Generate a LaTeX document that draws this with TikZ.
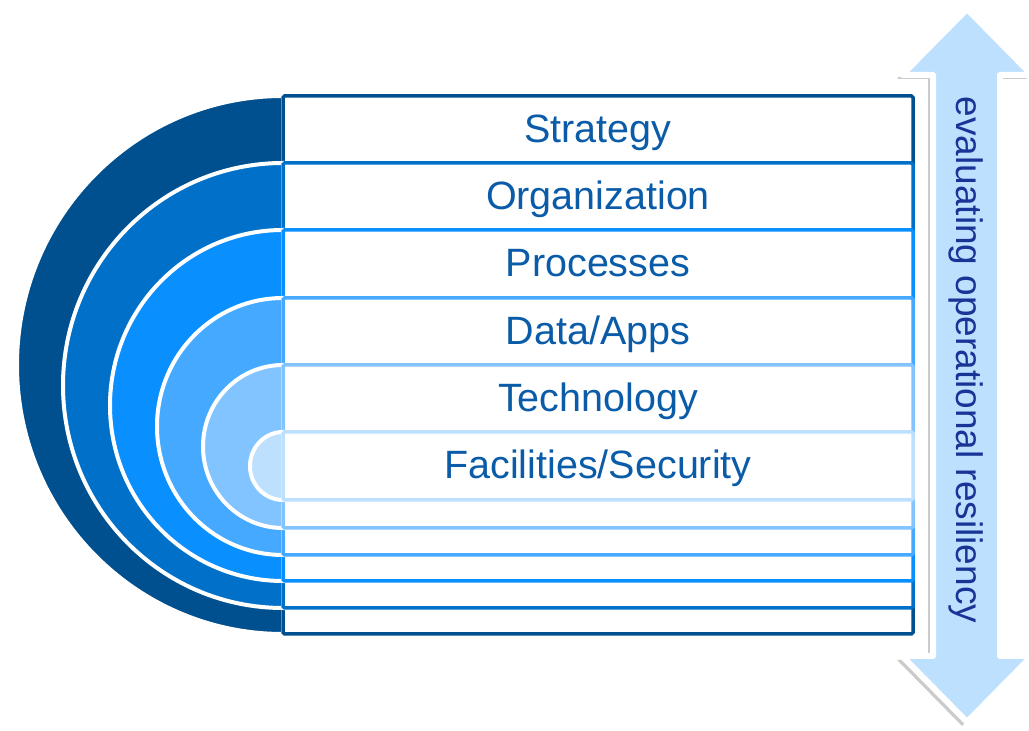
\documentclass[tikz,border=0pt]{standalone}
\usepackage{fontspec}
\setmainfont{Liberation Sans}
\usepackage{tikz}
\usetikzlibrary{calc, shadows}
\usepackage{xcolor}
\definecolor{layerA}{RGB}{0,80,143}
\definecolor{layerB}{RGB}{0,112,200}
\definecolor{layerC}{RGB}{10,143,255}
\definecolor{layerD}{RGB}{69,170,255}
\definecolor{layerE}{RGB}{130,196,255}
\definecolor{layerF}{RGB}{189,224,255}
\definecolor{labelblue}{RGB}{10,92,168}
\definecolor{arrownavy}{RGB}{24,52,150}
\tikzstyle{halfdisk} = [draw=white, line width=4pt]
\tikzstyle{layerbox} = [fill=white, line width=3.5pt, rounded corners=1.5pt]
\tikzstyle{layerlabel} = [anchor=base, text=labelblue, font=\fontsize{39.5}{44}\selectfont]

\begin{document}
\begin{tikzpicture}[x=1pt, y=1pt]

        \useasboundingbox (0,0) rectangle (1029,731);

        % layers, outer to inner
        \filldraw[halfdisk, fill=layerA] (283,635) arc (90:270:266 and 269) -- cycle;
        \draw[layerbox, draw=layerA] (283,97) rectangle (913,635);

        \filldraw[halfdisk, fill=layerB] (283,568) arc (90:270:220 and 222.5) -- cycle;
        \draw[layerbox, draw=layerB] (283,123) rectangle (913,568);

        \filldraw[halfdisk, fill=layerC] (283,501) arc (90:270:173 and 175.5) -- cycle;
        \draw[layerbox, draw=layerC] (283,150) rectangle (913,501);

        \filldraw[halfdisk, fill=layerD] (283,433) arc (90:270:126 and 128.5) -- cycle;
        \draw[layerbox, draw=layerD] (283,176) rectangle (913,433);

        \filldraw[halfdisk, fill=layerE] (283,366) arc (90:270:80 and 81.5) -- cycle;
        \draw[layerbox, draw=layerE] (283,203) rectangle (913,366);

        \filldraw[halfdisk, fill=layerF] (283,299) arc (90:270:33 and 34) -- cycle;
        \draw[layerbox, draw=layerF] (283,231) rectangle (913,299);

        \node (strategy) [layerlabel] at (598,588.5) {Strategy};
        \node (organization) [layerlabel] at (598,521.5) {Organization};
        \node (processes) [layerlabel] at (598,454.5) {Processes};
        \node (dataapps) [layerlabel] at (598,386.5) {Data/Apps};
        \node (technology) [layerlabel] at (598,319.5) {Technology};
        \node (facilities) [layerlabel] at (598,252.5) {Facilities/Security};

        % double arrow on the right
        \filldraw[fill=layerF, draw=white, line width=6pt, line join=round,
            drop shadow={shadow xshift=-5pt, shadow yshift=-4pt, fill=black!45, opacity=.45}]
            (967,722) -- (1032,656) -- (1000,656) -- (1000,75) -- (1032,75)
            -- (967,9) -- (902,75) -- (933,75) -- (933,656) -- (902,656) -- cycle;

        \node (resiliency) [rotate=-90, text=arrownavy, font=\fontsize{37}{40}\selectfont]
            at (966,371) {evaluating operational resiliency};

    \end{tikzpicture}
\end{document}
